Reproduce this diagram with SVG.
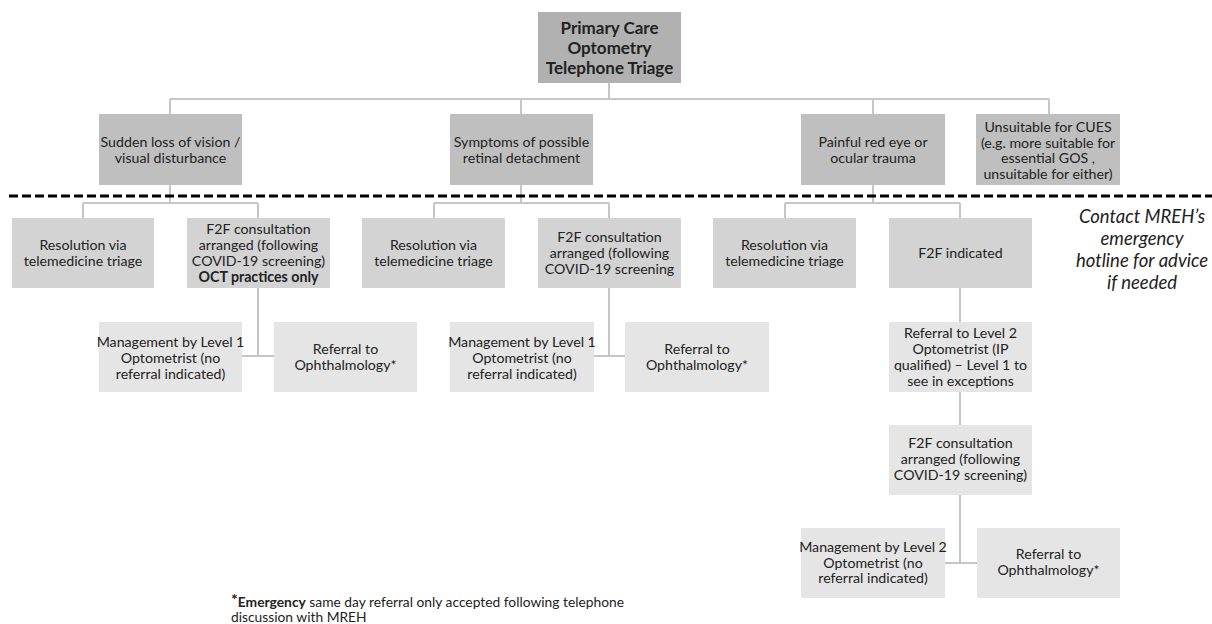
<svg xmlns="http://www.w3.org/2000/svg" width="1212" height="624" viewBox="0 0 1212 624">
<style>
.t{font-family:Lato,"Liberation Sans",sans-serif;font-size:14.2px;fill:#222222;text-anchor:middle}
.b{font-weight:bold}
.h{font-size:17px;font-weight:bold}
.c{font-size:18.5px;font-style:italic}
.f{font-size:13.8px;text-anchor:start}
.n0{fill:#b1b1b1}
.n1{fill:#bfbfbf}
.n2{fill:#d3d3d3}
.n3{fill:#e5e5e5}
.con{fill:none;stroke:#c6c6c6;stroke-width:2}
</style>
<rect width="1212" height="624" fill="#ffffff"/>
<g id="connectors" class="con">
<path d="M609 83V99M170 99H1049M170 99V114M521 99V114M873 99V114M1049 99V114"/>
<path d="M170 185V203M83 203H258M83 203V218M258 203V218"/>
<path d="M521 185V203M434 203H609M434 203V218M609 203V218"/>
<path d="M873 185V203M785 203H960M785 203V218M960 203V218"/>
<path d="M258 288V356M242 356H274"/>
<path d="M609 288V356M594 356H625"/>
<path d="M960 288V322M960 392V425M960 495V563M945 563H977"/>
</g>
<line id="divider" x1="9" y1="196" x2="1212" y2="196" stroke="#000" stroke-width="3" stroke-dasharray="9 4"/>
<g id="n-root"><rect class="n0" x="538" y="12" width="143" height="71"/><text class="t h" x="609.5" y="34">Primary Care</text><text class="t h" x="609.5" y="54">Optometry</text><text class="t h" x="609.5" y="74">Telephone Triage</text></g>
<g id="n-sudden"><rect class="n1" x="99" y="114" width="143" height="71"/><text class="t" x="170.5" y="147">Sudden loss of vision /</text><text class="t" x="170.5" y="163">visual disturbance</text></g>
<g id="n-retinal"><rect class="n1" x="450" y="114" width="143" height="71"/><text class="t" x="521.5" y="147">Symptoms of possible</text><text class="t" x="521.5" y="163">retinal detachment</text></g>
<g id="n-painful"><rect class="n1" x="801" y="114" width="144" height="71"/><text class="t" x="873" y="147">Painful red eye or</text><text class="t" x="873" y="163">ocular trauma</text></g>
<g id="n-unsuitable"><rect class="n1" x="976" y="114" width="144" height="71"/><text class="t" x="1048" y="132">Unsuitable for CUES</text><text class="t" x="1048" y="148">(e.g. more suitable for</text><text class="t" x="1048" y="163">essential GOS ,</text><text class="t" x="1048" y="179">unsuitable for either)</text></g>
<g id="n-res1"><rect class="n2" x="12" y="218" width="142" height="70"/><text class="t" x="83" y="250">Resolution via</text><text class="t" x="83" y="266">telemedicine triage</text></g>
<g id="n-f2f1"><rect class="n2" x="187" y="218" width="143" height="70"/><text class="t" x="258.5" y="234">F2F consultation</text><text class="t" x="258.5" y="250">arranged (following</text><text class="t" x="258.5" y="266">COVID-19 screening)</text><text class="t b" x="258.5" y="282">OCT practices only</text></g>
<g id="n-res2"><rect class="n2" x="362" y="218" width="143" height="70"/><text class="t" x="433.5" y="250">Resolution via</text><text class="t" x="433.5" y="266">telemedicine triage</text></g>
<g id="n-f2f2"><rect class="n2" x="538" y="218" width="143" height="70"/><text class="t" x="609.5" y="242">F2F consultation</text><text class="t" x="609.5" y="258">arranged (following</text><text class="t" x="609.5" y="274">COVID-19 screening</text></g>
<g id="n-res3"><rect class="n2" x="713" y="218" width="143" height="70"/><text class="t" x="784.5" y="250">Resolution via</text><text class="t" x="784.5" y="266">telemedicine triage</text></g>
<g id="n-f2find"><rect class="n2" x="889" y="218" width="143" height="70"/><text class="t" x="960.5" y="258">F2F indicated</text></g>
<g id="n-mgmt1"><rect class="n3" x="99" y="322" width="143" height="70"/><text class="t" x="170.5" y="347">Management by Level 1</text><text class="t" x="170.5" y="363">Optometrist (no</text><text class="t" x="170.5" y="379">referral indicated)</text></g>
<g id="n-ref1"><rect class="n3" x="274" y="322" width="143" height="70"/><text class="t" x="345.5" y="354">Referral to</text><text class="t" x="345.5" y="370">Ophthalmology*</text></g>
<g id="n-mgmt2"><rect class="n3" x="450" y="322" width="144" height="70"/><text class="t" x="522" y="347">Management by Level 1</text><text class="t" x="522" y="363">Optometrist (no</text><text class="t" x="522" y="379">referral indicated)</text></g>
<g id="n-ref2"><rect class="n3" x="625" y="322" width="144" height="70"/><text class="t" x="697" y="354">Referral to</text><text class="t" x="697" y="370">Ophthalmology*</text></g>
<g id="n-refL2"><rect class="n3" x="889" y="322" width="143" height="70"/><text class="t" x="960.5" y="338">Referral to Level 2</text><text class="t" x="960.5" y="354">Optometrist (IP</text><text class="t" x="960.5" y="370">qualified) – Level 1 to</text><text class="t" x="960.5" y="386">see in exceptions</text></g>
<g id="n-f2f3"><rect class="n3" x="889" y="425" width="143" height="70"/><text class="t" x="960.5" y="448">F2F consultation</text><text class="t" x="960.5" y="464">arranged (following</text><text class="t" x="960.5" y="480">COVID-19 screening)</text></g>
<g id="n-mgmt3"><rect class="n3" x="801" y="528" width="144" height="70"/><text class="t" x="873" y="552">Management by Level 2</text><text class="t" x="873" y="568">Optometrist (no</text><text class="t" x="873" y="583">referral indicated)</text></g>
<g id="n-ref3"><rect class="n3" x="977" y="528" width="143" height="70"/><text class="t" x="1048.5" y="559">Referral to</text><text class="t" x="1048.5" y="575">Ophthalmology*</text></g>
<g id="note-contact"><text class="t c" x="1142" y="223">Contact MREH’s</text><text class="t c" x="1142" y="245">emergency</text><text class="t c" x="1142" y="267">hotline for advice</text><text class="t c" x="1142" y="289">if needed</text></g>
<g id="footnote"><text class="t f" x="231" y="607"><tspan font-weight="bold" font-size="16" dy="-2">*</tspan><tspan font-weight="bold" dy="2">Emergency</tspan> same day referral only accepted following telephone</text><text class="t f" x="231" y="622">discussion with MREH</text></g>
</svg>
